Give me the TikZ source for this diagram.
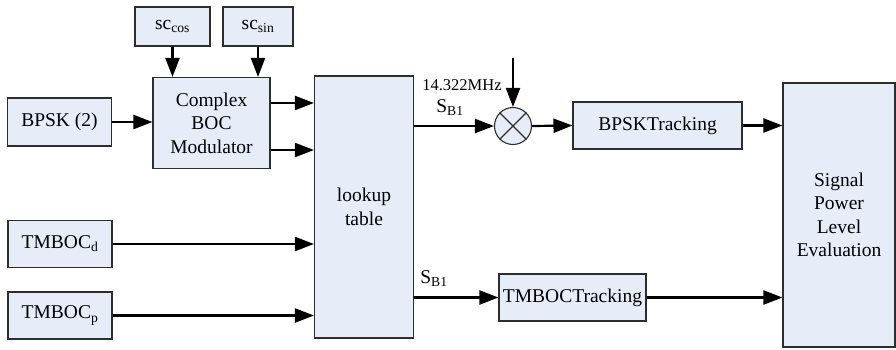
\documentclass[tikz,border=0pt]{standalone}
\usepackage{fontspec}
\setmainfont{Liberation Serif}
\usetikzlibrary{positioning,arrows.meta,calc}
\definecolor{boxfill}{RGB}{230,236,248}
\definecolor{boxline}{RGB}{45,45,45}

\begin{document}
\begin{tikzpicture}[
    x=1pt, y=-1pt,
    block/.style={rectangle, draw=boxline, fill=boxfill, line width=1.1pt, align=center,
                  inner sep=1pt, font=\fontsize{19.5}{23.5}\selectfont},
    arrow/.style={-{Triangle[length=19pt, width=14pt]}, line width=2.2pt},
    siglabel/.style={font=\fontsize{19.5}{23}\selectfont, inner sep=0pt},
    freqlabel/.style={font=\fontsize{16.5}{19}\selectfont, inner sep=0pt},
    mixer/.style={circle, draw=boxline, fill=boxfill, line width=1.1pt, minimum size=37pt, inner sep=0pt},
]
\useasboundingbox (0,0) rectangle (896,349);

% Inputs
\node[block, minimum width=75pt, minimum height=39pt] (sccos) at (172.5, 26.5) {sc\textsubscript{cos}};
\node[block, minimum width=70pt, minimum height=39pt] (scsin) at (258, 26.5) {sc\textsubscript{sin}};
\node[block, minimum width=104pt, minimum height=48pt] (bpsk) at (59.5, 122) {BPSK (2)};
\node[block, minimum width=104pt, minimum height=47pt] (tmbocd) at (60, 244) {TMBOC\textsubscript{d}};
\node[block, minimum width=104pt, minimum height=47pt] (tmbocp) at (60, 315.5) {TMBOC\textsubscript{p}};

% Modulator and table
\node[block, minimum width=117pt, minimum height=91pt] (mod) at (211.5, 123) {Complex\\BOC\\Modulator};
\node[block, minimum width=99pt, minimum height=262pt] (lut) at (364, 207) {lookup\\table};

% Tracking
\node[mixer] (mix) at (513, 126) {};
\draw[boxline, line width=1.1pt] (mix.north east) -- (mix.south west);
\draw[boxline, line width=1.1pt] (mix.north west) -- (mix.south east);
\node[block, minimum width=169pt, minimum height=47pt] (bpsktr) at (657.5, 125.5) {BPSKTracking};
\node[block, minimum width=147pt, minimum height=47pt] (tmboctr) at (572.5, 297.5) {TMBOCTracking};
\node[block, minimum width=112pt, minimum height=264pt] (spl) at (839, 215) {Signal\\Power\\Level\\Evaluation};

% Labels
\node[freqlabel] (freq) at (462, 85) {14.322MHz};
\node[siglabel] (sba) at (450, 108) {S\textsubscript{B1}};
\node[siglabel] (sbb) at (434, 279) {S\textsubscript{B1}};
\coordinate (lo) at (513, 58);

% Connections
\draw[arrow] (sccos.south) -- (sccos.south |- mod.north);
\draw[arrow] (scsin.south) -- (scsin.south |- mod.north);
\draw[arrow] (bpsk.east) -- (bpsk.east -| mod.west);
\draw[arrow] ([yshift=20pt]mod.east) -- ([yshift=20pt]mod.east -| lut.west);
\draw[arrow] ([yshift=-27pt]mod.east) -- ([yshift=-27pt]mod.east -| lut.west);
\draw[arrow] (tmbocd.east) -- (tmbocd.east -| lut.west);
\draw[arrow] (tmbocp.east) -- (tmbocp.east -| lut.west);
\draw[arrow] (lut.east |- mix) -- (mix.west);
\draw[arrow] (lo) -- (mix.north);
\draw[arrow] (mix.east) -- (bpsktr.west);
\draw[arrow] (bpsktr.east) -- (bpsktr.east -| spl.west);
\draw[arrow] (lut.east |- tmboctr) -- (tmboctr.west);
\draw[arrow] (tmboctr.east) -- (tmboctr.east -| spl.west);
\end{tikzpicture}
\end{document}
